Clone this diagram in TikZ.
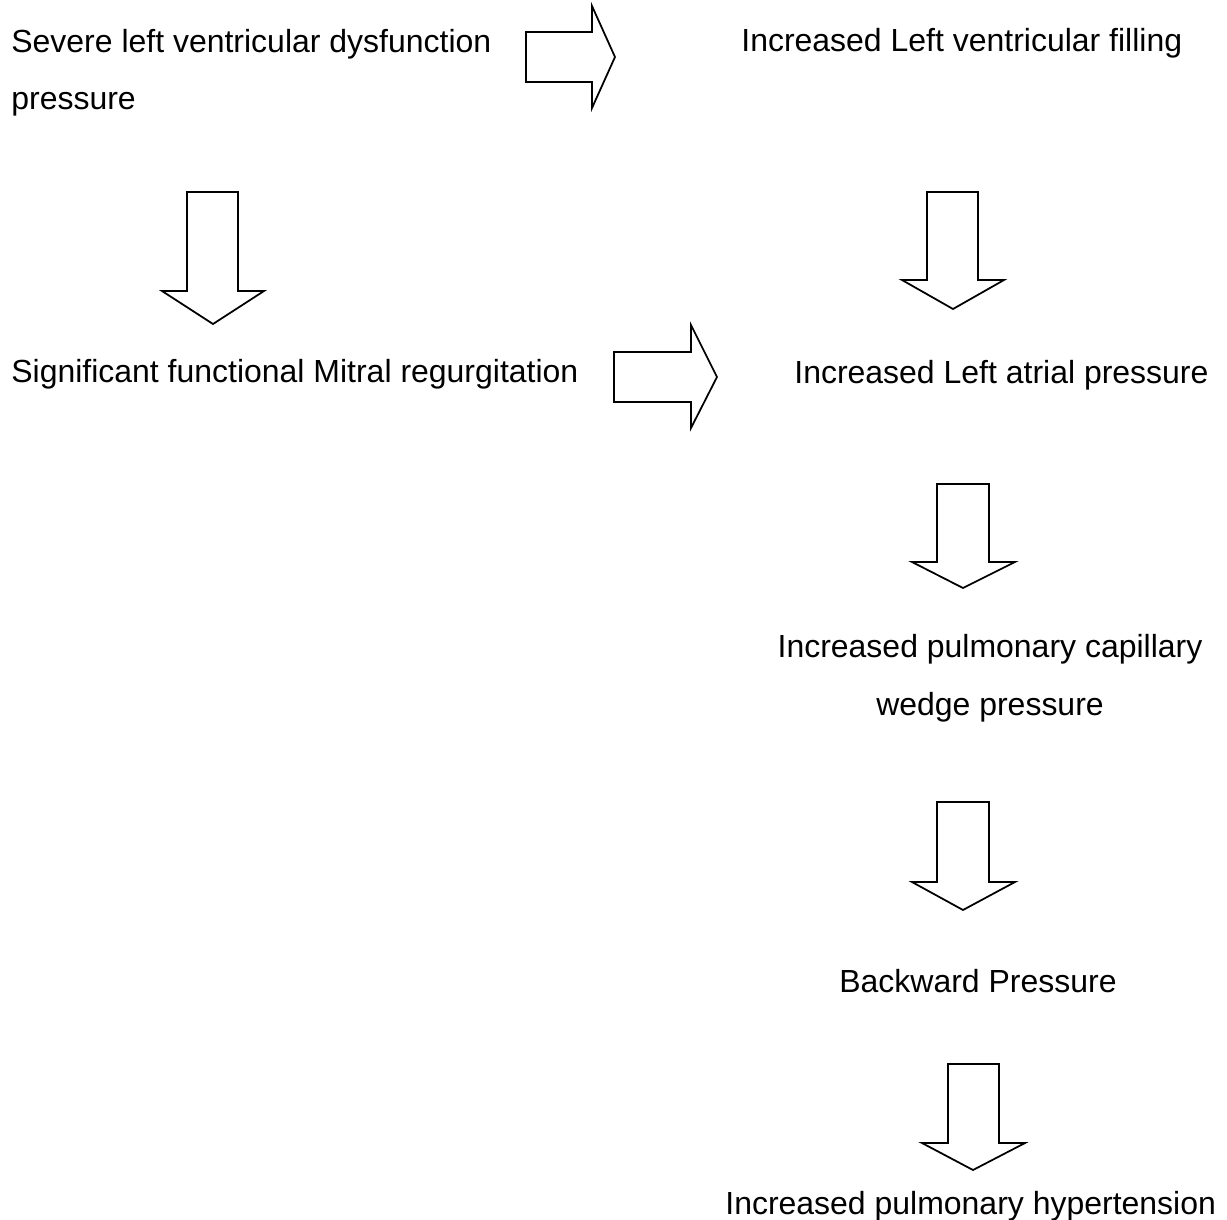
\documentclass[tikz,border=0pt]{standalone}
\usepackage{fontspec}
\setmainfont{Liberation Sans}
\usetikzlibrary{positioning}

\begin{document}
\begin{tikzpicture}[
    x=0.02cm, y=-0.02cm,
    every node/.style={font=\fontsize{18.2}{33}\selectfont, inner sep=0pt},
    txt/.style={anchor=base west, align=left},
    blockarrow/.style={draw=black, fill=white, line width=1pt, line join=miter}
]
\useasboundingbox (0,0) rectangle (1227,1220);

% --- Texto
\node[txt] (dysfunction) at (11,110) {Severe left ventricular dysfunction\\pressure};
\node[txt] (filling) at (741,52) {Increased Left ventricular filling};
\node[txt] (mitral) at (11,382) {Significant functional Mitral regurgitation};
\node[txt] (atrial) at (794,383) {Increased Left atrial pressure};
\node[txt, anchor=base, align=center] (wedge) at (990,715) {Increased pulmonary capillary\\wedge pressure};
\node[txt] (backward) at (839,992) {Backward Pressure};
\node[txt] (hypertension) at (725,1214) {Increased pulmonary hypertension};

% --- Flechas horizontales
\draw[blockarrow] (526,32) -- (592,32) -- (592,6) -- (615,57) -- (592,108) -- (592,82) -- (526,82) -- cycle;
\draw[blockarrow] (614,352) -- (691,352) -- (691,325) -- (717,377) -- (691,428) -- (691,402) -- (614,402) -- cycle;

% --- Flechas verticales
\draw[blockarrow] (187,192) -- (238,192) -- (238,291) -- (264,291) -- (213,324) -- (162,291) -- (187,291) -- cycle;
\draw[blockarrow] (927,192) -- (978,192) -- (978,280) -- (1004,280) -- (953,309) -- (902,280) -- (927,280) -- cycle;
\draw[blockarrow] (937,484) -- (989,484) -- (989,562) -- (1015,562) -- (963,588) -- (912,562) -- (937,562) -- cycle;
\draw[blockarrow] (937,802) -- (989,802) -- (989,882) -- (1015,882) -- (963,910) -- (912,882) -- (937,882) -- cycle;
\draw[blockarrow] (948,1064) -- (999,1064) -- (999,1143) -- (1025,1143) -- (973,1170) -- (922,1143) -- (948,1143) -- cycle;

\end{tikzpicture}
\end{document}
